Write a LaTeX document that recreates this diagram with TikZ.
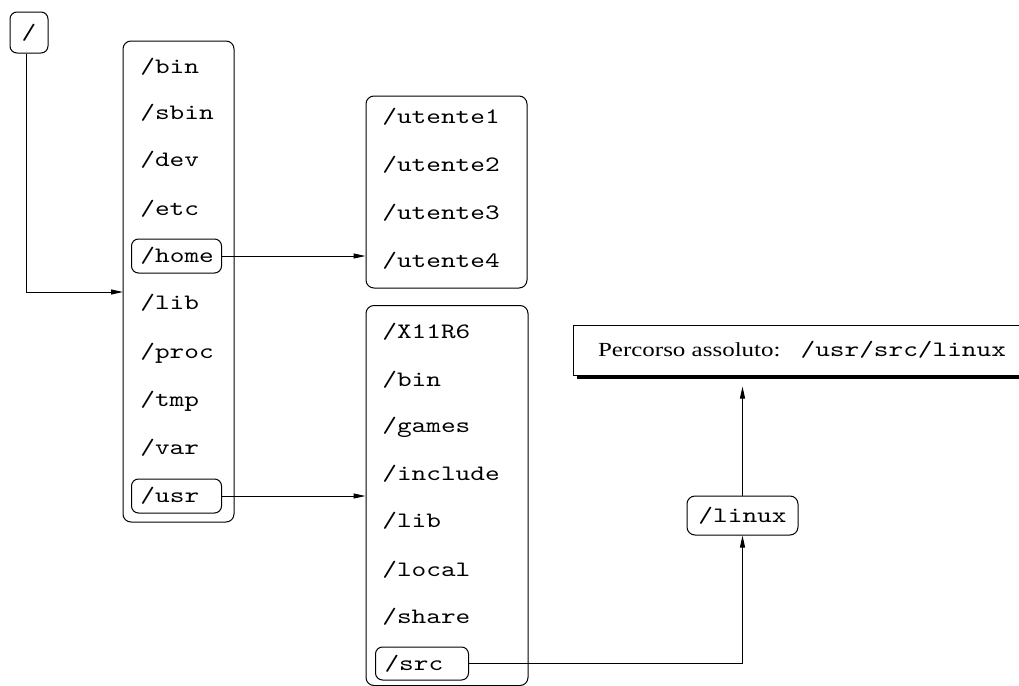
\documentclass[tikz,border=0pt]{standalone}
\usepackage{fontspec}
\setmainfont{Liberation Serif}
\newfontfamily\pathfont{lmmono10-regular.otf}[FakeStretch=1.27]
\newfontfamily\labelfont{Liberation Serif}[FakeStretch=1.25]
\usetikzlibrary{arrows.meta,shadows}
\begin{document}
\begin{tikzpicture}[x=0.5pt,y=-0.5pt,
  pf/.style={font=\pathfont\fontsize{11}{13}\selectfont},
  box/.style={draw, line width=0.5pt, rounded corners=4pt, inner sep=0pt},
  item/.style={pf, anchor=west, inner sep=0pt},
  sel/.style={pf, draw, line width=0.5pt, rounded corners=3.5pt, anchor=west, inner xsep=4.5pt, inner ysep=0pt, minimum height=17pt, align=left},
  arr/.style={line width=0.5pt, -{Triangle[length=6pt,width=2.5pt]}}]
\clip (0,0) rectangle (1019,686);

% root
\node[box, pf, rounded corners=3.5pt, minimum width=19pt, minimum height=20.5pt] (root) at (29,32.5) {/};

% left container
\node[box, minimum width=55.5pt, minimum height=240.5pt] (lbox) at (178.5,281.5) {};
\node[item] (bin)  at (140,67)  {/bin};
\node[item] (sbin) at (140,113) {/sbin};
\node[item] (dev)  at (140,160) {/dev};
\node[item] (etc)  at (140,209) {/etc};
\node[sel, text width=36pt] (home) at (131,256) {/home};
\node[item] (lib)  at (140,303) {/lib};
\node[item] (proc) at (140,353) {/proc};
\node[item] (tmp)  at (140,401) {/tmp};
\node[item] (var)  at (140,448) {/var};
\node[sel, text width=36pt] (usr) at (131,496) {/usr};

% utenti container
\node[box, minimum width=80.5pt, minimum height=96pt] (ubox) at (446.5,192) {};
\node[item] (u1) at (382,117) {/utente1};
\node[item] (u2) at (382,165) {/utente2};
\node[item] (u3) at (382,213) {/utente3};
\node[item] (u4) at (382,261) {/utente4};

% usr container
\node[box, minimum width=81pt, minimum height=190pt] (xbox) at (447,495.5) {};
\node[item] (x11)  at (382,332) {/X11R6};
\node[item] (xbin) at (382,380) {/bin};
\node[item] (gam)  at (382,427) {/games};
\node[item] (inc)  at (382,474) {/include};
\node[item] (xlib) at (382,521) {/lib};
\node[item] (loc)  at (382,570) {/local};
\node[item] (sha)  at (382,617) {/share};
\node[sel, text width=37.5pt, minimum height=16.5pt] (src) at (375,663.5) {/src};

% linux
\node[box, pf, rounded corners=4pt, minimum width=55.5pt, minimum height=19.5pt] (linux) at (742.5,515.5) {/linux};

% percorso
\node[draw, fill=white, line width=0.5pt, inner sep=0pt, minimum width=229pt, minimum height=25pt,
  drop shadow={shadow xshift=2pt, shadow yshift=-2pt, fill=black, opacity=1}]
  (perc) at (802,350) {\labelfont\fontsize{10}{12}\selectfont Percorso assoluto:\quad{\pathfont\fontsize{11}{13}\selectfont /usr/src/linux}};

% connectors
\coordinate (rootin) at (123,292);
\draw[arr] ([xshift=-1.5pt]root.south) |- (rootin);
\draw[arr] (home.east) -- (home.east -| ubox.west);
\draw[arr] (usr.east) -- (usr.east -| xbox.west);
\draw[arr] (src.east) -| (linux.south);
\draw[arr] (linux.north) -- ([yshift=-5.5pt]linux.north |- perc.south);
\end{tikzpicture}
\end{document}
